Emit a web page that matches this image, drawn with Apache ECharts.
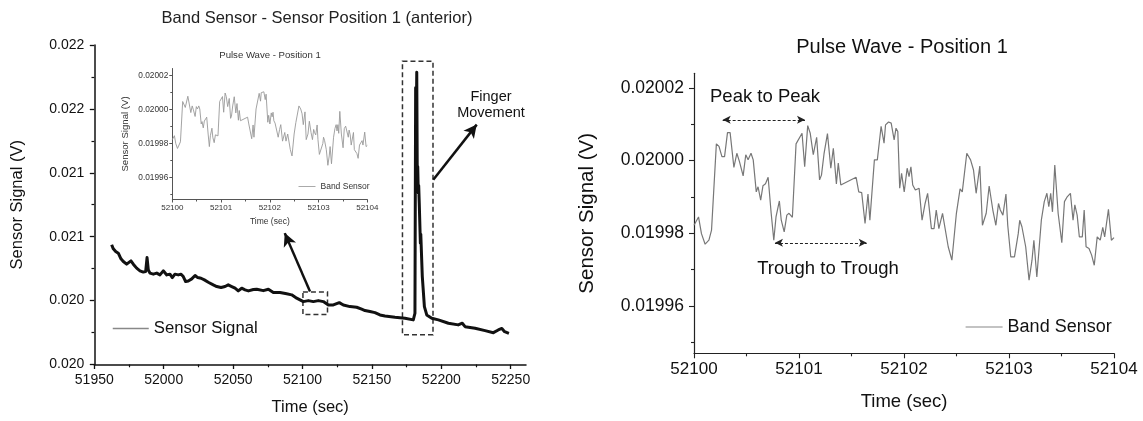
<!DOCTYPE html>
<html>
<head>
<meta charset="utf-8">
<script src="https://cdn.jsdelivr.net/npm/echarts@6/dist/echarts.min.js"></script>
<style>
html,body{margin:0;padding:0;background:#fff;}
#chart{width:1143px;height:421px;}
</style>
</head>
<body>
<div id="chart"></div>
<script>
// ---------- DATA ----------
// Main recording: time (sec) and sensor signal (V)
const mainTime = [51962.5, 51963.7, 51965.4, 51967.3, 51969.2, 51970.9, 51973.3, 51974.5, 51976.4, 51978.1,
  51980.5, 51982.9, 51985.3, 51987.0, 51988.0, 51988.9, 51990.1, 51992.5, 51995.0, 51997.3,
  51999.7, 52002.2, 52004.5, 52006.2, 52008.1, 52010.5, 52012.5, 52014.1, 52015.8, 52017.7,
  52020.2, 52022.6, 52024.5, 52026.9, 52029.3, 52032.1, 52035.7, 52038.2, 52041.3, 52044.2,
  52046.5, 52049.0, 52051.4, 52053.7, 52056.2, 52058.6, 52061.0, 52064.6, 52067.0, 52071.8,
  52075.4, 52079.0, 52083.8, 52088.6, 52092.2, 52095.8, 52100.6, 52104.2, 52107.8, 52111.4,
  52115.0, 52118.6, 52122.2, 52126.5, 52129.4, 52134.2, 52139.0, 52142.6, 52145.0, 52148.6,
  52152.2, 52155.8, 52159.4, 52166.6, 52173.8, 52179.8, 52181.0, 52181.5, 52181.9, 52182.3,
  52182.7, 52183.0, 52183.4, 52183.7, 52184.1, 52184.9, 52185.2, 52186.3, 52187.8, 52189.5,
  52193.1, 52197.9, 52205.1, 52212.2, 52215.1, 52217.1, 52224.3, 52231.5, 52237.5, 52241.0,
  52243.6, 52245.6, 52248.7];
const mainSignal = [0.020437, 0.020405, 0.020384, 0.020371, 0.020327, 0.020306, 0.020285, 0.020293, 0.020311, 0.020285,
  0.020254, 0.020233, 0.020223, 0.020227, 0.020337, 0.020241, 0.020215, 0.020207, 0.020215, 0.020201,
  0.020233, 0.020201, 0.020207, 0.020180, 0.020207, 0.020201, 0.020207, 0.020188, 0.020149, 0.020154,
  0.020170, 0.020196, 0.020180, 0.020175, 0.020162, 0.020144, 0.020123, 0.020110, 0.020102, 0.020110,
  0.020123, 0.020110, 0.020097, 0.020076, 0.020097, 0.020084, 0.020076, 0.020087, 0.020089, 0.020078,
  0.020089, 0.020063, 0.020063, 0.020053, 0.020045, 0.020019, 0.019992, 0.020000, 0.019992, 0.020000,
  0.019992, 0.019966, 0.019966, 0.019984, 0.019966, 0.019953, 0.019948, 0.019933, 0.019922, 0.019914,
  0.019906, 0.019888, 0.019880, 0.019870, 0.019862, 0.019849, 0.019901, 0.021665, 0.021300, 0.021787,
  0.020920, 0.021050, 0.020842, 0.020900, 0.020763, 0.020450, 0.020520, 0.020188, 0.019953, 0.019888,
  0.019862, 0.019849, 0.019823, 0.019810, 0.019823, 0.019796, 0.019784, 0.019765, 0.019749, 0.019770,
  0.019782, 0.019757, 0.019744];

// Pulse wave detail (52100 - 52104 s)
const pulseTime = [52100.000, 52100.043, 52100.071, 52100.089, 52100.106, 52100.142, 52100.167, 52100.213, 52100.238, 52100.266,
  52100.291, 52100.319, 52100.344, 52100.380, 52100.408, 52100.433, 52100.468, 52100.493, 52100.515, 52100.543,
  52100.564, 52100.593, 52100.610, 52100.635, 52100.657, 52100.681, 52100.706, 52100.735, 52100.760, 52100.781,
  52100.813, 52100.831, 52100.859, 52100.884, 52100.905, 52100.937, 52100.972, 52101.029, 52101.054, 52101.083,
  52101.107, 52101.136, 52101.168, 52101.196, 52101.214, 52101.239, 52101.271, 52101.303, 52101.327, 52101.356,
  52101.374, 52101.398, 52101.544, 52101.569, 52101.597, 52101.629, 52101.657, 52101.675, 52101.718, 52101.746,
  52101.782, 52101.810, 52101.824, 52101.853, 52101.878, 52101.906, 52101.924, 52101.941, 52101.959, 52101.977,
  52102.002, 52102.030, 52102.048, 52102.066, 52102.083, 52102.108, 52102.144, 52102.172, 52102.201, 52102.225,
  52102.261, 52102.286, 52102.307, 52102.332, 52102.367, 52102.421, 52102.456, 52102.499, 52102.534, 52102.555,
  52102.598, 52102.634, 52102.662, 52102.687, 52102.722, 52102.747, 52102.783, 52102.811, 52102.846, 52102.875,
  52102.900, 52102.917, 52102.942, 52102.971, 52102.988, 52103.017, 52103.052, 52103.088, 52103.102, 52103.123,
  52103.159, 52103.191, 52103.219, 52103.237, 52103.265, 52103.308, 52103.336, 52103.361, 52103.379, 52103.397,
  52103.414, 52103.436, 52103.468, 52103.503, 52103.528, 52103.556, 52103.585, 52103.610, 52103.627, 52103.649,
  52103.670, 52103.698, 52103.716, 52103.734, 52103.762, 52103.787, 52103.812, 52103.840, 52103.869, 52103.893,
  52103.911, 52103.947, 52103.975, 52104.000];
const pulseSignal = [0.0199822, 0.0199845, 0.0199799, 0.0199804, 0.0199770, 0.0199781, 0.0199809, 0.0200046, 0.0200039, 0.0200011,
  0.0200011, 0.0200077, 0.0200077, 0.0199981, 0.0200020, 0.0199997, 0.0199958, 0.0200016, 0.0200002, 0.0200020,
  0.0200002, 0.0199914, 0.0199928, 0.0199891, 0.0199931, 0.0199936, 0.0199954, 0.0199855, 0.0199781, 0.0199845,
  0.0199889, 0.0199836, 0.0199804, 0.0199850, 0.0199855, 0.0199844, 0.0200046, 0.0200075, 0.0199983, 0.0200096,
  0.0200075, 0.0200016, 0.0200064, 0.0199947, 0.0199960, 0.0200020, 0.0200074, 0.0199979, 0.0200034, 0.0199936,
  0.0199993, 0.0199933, 0.0199954, 0.0199914, 0.0199912, 0.0199827, 0.0199908, 0.0199836, 0.0200002, 0.0200002,
  0.0200094, 0.0200048, 0.0200098, 0.0200106, 0.0200103, 0.0200057, 0.0200089, 0.0200080, 0.0199924, 0.0199965,
  0.0199914, 0.0199979, 0.0199956, 0.0199983, 0.0199933, 0.0199919, 0.0199924, 0.0199836, 0.0199882, 0.0199910,
  0.0199813, 0.0199813, 0.0199864, 0.0199813, 0.0199855, 0.0199763, 0.0199726, 0.0199855, 0.0199922, 0.0199914,
  0.0200020, 0.0200002, 0.0199974, 0.0199910, 0.0199985, 0.0199822, 0.0199855, 0.0199930, 0.0199864, 0.0199822,
  0.0199882, 0.0199864, 0.0199850, 0.0199908, 0.0199822, 0.0199735, 0.0199735, 0.0199799, 0.0199836, 0.0199818,
  0.0199763, 0.0199671, 0.0199726, 0.0199781, 0.0199680, 0.0199836, 0.0199887, 0.0199910, 0.0199873, 0.0199910,
  0.0199859, 0.0199988, 0.0199855, 0.0199774, 0.0199887, 0.0199901, 0.0199910, 0.0199836, 0.0199878, 0.0199850,
  0.0199790, 0.0199790, 0.0199864, 0.0199763, 0.0199758, 0.0199740, 0.0199712, 0.0199790, 0.0199781, 0.0199816,
  0.0199790, 0.0199866, 0.0199781, 0.0199788];

// Tick values / labels
const mainXTicks = [51950, 52000, 52050, 52100, 52150, 52200, 52250];
const mainXMinor = [51975, 52025, 52075, 52125, 52175, 52225];
const mainYTicks = [0.0195, 0.0200, 0.0205, 0.0210, 0.0215, 0.0220];
const mainYLabels = ['0.020', '0.020', '0.021', '0.021', '0.022', '0.022'];
const pulseYTicks = [0.01996, 0.01998, 0.02000, 0.02002];
const pulseYMinor = [0.01995, 0.01997, 0.01999, 0.02001];

// Annotation anchors (data coordinates)
const spikeBox = [[52172, 0.021873], [52194, 0.019733]];
const detailBox = [[52100.3, 0.020067], [52118, 0.019892]];
const arrowToInset = [[52105.4, 0.020071], [52087.2, 0.020528]];
const arrowToText = [[52194.2, 0.020946], [52225.5, 0.021377]];
const peakToPeak = [[52100.273, 0.0200112], [52101.057, 0.0200112]];
const troughToTrough = [[52100.771, 0.0199774], [52101.645, 0.0199774]];

// ---------- CHART ----------
const FONT = '"Liberation Sans", Arial, Helvetica, sans-serif';
const zip = (a, b) => a.map((x, i) => [x, b[i]]);
const chart = echarts.init(document.getElementById('chart'), null, { renderer: 'canvas' });

function txt(x, y, text, size, color, align, extra) {
  return Object.assign({
    type: 'text', x: x, y: y, silent: true,
    style: {
      text: text, fontSize: size, fontFamily: FONT, fill: color,
      textAlign: align, align: align, textVerticalAlign: 'middle', verticalAlign: 'middle'
    }
  }, extra || {});
}
const hiddenSymbol = { color: 'rgba(0,0,0,0)', borderWidth: 0, opacity: 0 };

const option = {
  animation: false,
  backgroundColor: '#ffffff',
  textStyle: { fontFamily: FONT },
  grid: [
    { left: 94.3, top: 45, width: 431.7, height: 319.5, outerBoundsMode: 'none' },
    { left: 172.3, top: 68.5, width: 195, height: 131, outerBoundsMode: 'none' },
    { left: 694, top: 73.3, width: 420, height: 280, outerBoundsMode: 'none' }
  ],
  xAxis: [
    { // main
      type: 'value', gridIndex: 0, position: 'bottom', min: 51950, max: 52261,
      splitLine: { show: false },
      axisLine: { show: true, lineStyle: { color: '#111', width: 1.5 } },
      axisTick: { show: true, length: 4.5, customValues: mainXTicks, lineStyle: { color: '#111', width: 1.3 } },
      axisLabel: { customValues: mainXTicks, formatter: v => String(Math.round(v)), fontSize: 14, color: '#111', margin: 9 },
      name: 'Time (sec)', nameLocation: 'middle', nameGap: 34,
      nameTextStyle: { fontSize: 16.5, color: '#111' }
    },
    { // main minor ticks
      type: 'value', gridIndex: 0, position: 'bottom', min: 51950, max: 52261,
      splitLine: { show: false }, axisLine: { show: false }, axisLabel: { show: false },
      axisTick: { show: true, length: 2.8, customValues: mainXMinor, lineStyle: { color: '#111', width: 1.2 } }
    },
    { // inset
      type: 'value', gridIndex: 1, position: 'bottom', min: 52100, max: 52104, interval: 1,
      splitLine: { show: false },
      axisLine: { show: true, lineStyle: { color: '#555', width: 1 } },
      axisTick: { show: true, length: 3, lineStyle: { color: '#555' } },
      minorTick: { show: true, splitNumber: 2, length: 2, lineStyle: { color: '#555' } },
      axisLabel: { formatter: v => String(Math.round(v)), fontSize: 8, color: '#333', margin: 4 },
      name: 'Time (sec)', nameLocation: 'middle', nameGap: 18,
      nameTextStyle: { fontSize: 8.5, color: '#333' }
    },
    { // right
      type: 'value', gridIndex: 2, position: 'bottom', min: 52100, max: 52104, interval: 1,
      splitLine: { show: false },
      axisLine: { show: true, lineStyle: { color: '#222', width: 1.2 } },
      axisTick: { show: true, length: 5, lineStyle: { color: '#222', width: 1.1 } },
      minorTick: { show: true, splitNumber: 2, length: 3, lineStyle: { color: '#222', width: 1.1 } },
      axisLabel: { formatter: v => String(Math.round(v)), fontSize: 17, color: '#111', margin: 8 },
      name: 'Time (sec)', nameLocation: 'middle', nameGap: 39,
      nameTextStyle: { fontSize: 18.5, color: '#111' }
    }
  ],
  yAxis: [
    { // main
      type: 'value', gridIndex: 0, position: 'left', min: 0.0195, max: 0.0220, interval: 0.0005,
      splitLine: { show: false },
      axisLine: { show: true, lineStyle: { color: '#111', width: 1.5 } },
      axisTick: { show: true, length: 4.5, lineStyle: { color: '#111', width: 1.3 } },
      minorTick: { show: true, splitNumber: 2, length: 2.8, lineStyle: { color: '#111', width: 1.2 } },
      axisLabel: {
        fontSize: 14, color: '#111', margin: 10,
        formatter: v => {
          let best = 0;
          mainYTicks.forEach((t, i) => { if (Math.abs(t - v) < Math.abs(mainYTicks[best] - v)) best = i; });
          return mainYLabels[best];
        }
      },
      name: 'Sensor Signal (V)', nameLocation: 'middle', nameGap: 68,
      nameTextStyle: { fontSize: 16.5, color: '#111' }
    },
    { // inset
      type: 'value', gridIndex: 1, position: 'left', min: 0.019947, max: 0.020024,
      splitLine: { show: false },
      axisLine: { show: true, lineStyle: { color: '#555', width: 1 } },
      axisTick: { show: true, length: 3, customValues: pulseYTicks, lineStyle: { color: '#555' } },
      axisLabel: { customValues: pulseYTicks, formatter: v => v.toFixed(5), fontSize: 8.3, color: '#333', margin: 4 },
      name: 'Sensor Signal (V)', nameLocation: 'middle', nameGap: 42,
      nameTextStyle: { fontSize: 9.6, color: '#333' }
    },
    { // inset minor
      type: 'value', gridIndex: 1, position: 'left', min: 0.019947, max: 0.020024,
      splitLine: { show: false }, axisLine: { show: false }, axisLabel: { show: false },
      axisTick: { show: true, length: 2, customValues: pulseYMinor, lineStyle: { color: '#555' } }
    },
    { // right
      type: 'value', gridIndex: 2, position: 'left', min: 0.019947, max: 0.020024,
      splitLine: { show: false },
      axisLine: { show: true, lineStyle: { color: '#222', width: 1.2 } },
      axisTick: { show: true, length: 5, customValues: pulseYTicks, lineStyle: { color: '#222', width: 1.1 } },
      axisLabel: { customValues: pulseYTicks, formatter: v => v.toFixed(5), fontSize: 17.5, color: '#111', margin: 10 },
      name: 'Sensor Signal (V)', nameLocation: 'middle', nameGap: 96,
      nameTextStyle: { fontSize: 20.5, color: '#111' }
    },
    { // right minor
      type: 'value', gridIndex: 2, position: 'left', min: 0.019947, max: 0.020024,
      splitLine: { show: false }, axisLine: { show: false }, axisLabel: { show: false },
      axisTick: { show: true, length: 3, customValues: pulseYMinor, lineStyle: { color: '#222', width: 1.1 } }
    }
  ],
  legend: [
    {
      left: 112, top: 320, padding: 0, itemWidth: 36, itemHeight: 14, selectedMode: false,
      textStyle: { fontSize: 16.7, color: '#111' },
      data: [{ name: 'Sensor Signal', itemStyle: hiddenSymbol, lineStyle: { color: '#888', width: 1.5 } }]
    },
    {
      left: 298, top: 182, padding: 0, itemWidth: 17, itemHeight: 8, selectedMode: false,
      textStyle: { fontSize: 8.5, color: '#333' },
      data: [{ name: 'Band Sensor', itemStyle: hiddenSymbol, lineStyle: { color: '#aaa', width: 1 } }]
    },
    {
      left: 965, top: 318, padding: 0, itemWidth: 37, itemHeight: 14, selectedMode: false,
      textStyle: { fontSize: 18, color: '#111' },
      data: [{ name: 'Band Sensor', itemStyle: hiddenSymbol, lineStyle: { color: '#888', width: 1.2 } }]
    }
  ],
  series: [
    {
      name: 'Sensor Signal', type: 'line', xAxisIndex: 0, yAxisIndex: 0,
      data: zip(mainTime, mainSignal), symbol: 'none', silent: true,
      lineStyle: { color: '#111', width: 3, join: 'round' }, itemStyle: { color: '#111' },
      markArea: {
        silent: true,
        itemStyle: { color: 'rgba(0,0,0,0)', borderColor: '#333', borderWidth: 1.5, borderType: [5, 3] },
        data: [
          [{ coord: spikeBox[0] }, { coord: spikeBox[1] }],
          [{ coord: detailBox[0] }, { coord: detailBox[1] }]
        ]
      },
      markLine: {
        silent: true, symbol: ['none', 'arrow'], symbolSize: [10, 13],
        label: { show: false },
        lineStyle: { color: '#111', width: 2.5, type: 'solid' },
        data: [
          [{ coord: arrowToInset[0] }, { coord: arrowToInset[1] }],
          [{ coord: arrowToText[0] }, { coord: arrowToText[1] }]
        ]
      }
    },
    {
      name: 'Band Sensor', type: 'line', xAxisIndex: 2, yAxisIndex: 1,
      data: zip(pulseTime, pulseSignal), symbol: 'none', silent: true,
      lineStyle: { color: '#999', width: 0.9 }, itemStyle: { color: '#999' }
    },
    {
      name: 'Band Sensor', type: 'line', xAxisIndex: 3, yAxisIndex: 3,
      data: zip(pulseTime, pulseSignal), symbol: 'none', silent: true,
      lineStyle: { color: '#777', width: 1.2 }, itemStyle: { color: '#777' },
      markLine: {
        silent: true, symbol: ['arrow', 'arrow'], symbolSize: [6, 8],
        label: { show: false },
        lineStyle: { color: '#222', width: 1, type: [3, 2] },
        data: [
          [{ coord: peakToPeak[0] }, { coord: peakToPeak[1] }],
          [{ coord: troughToTrough[0] }, { coord: troughToTrough[1] }]
        ]
      }
    }
  ],
  graphic: [
    txt(317, 18, 'Band Sensor - Sensor Position 1 (anterior)', 16.5, '#222', 'center'),
    txt(270, 55, 'Pulse Wave - Position 1', 9.6, '#333', 'center'),
    txt(491, 97, 'Finger', 14.5, '#111', 'center'),
    txt(491, 113, 'Movement', 14.5, '#111', 'center'),
    txt(902, 47, 'Pulse Wave - Position 1', 20, '#111', 'center'),
    txt(710, 97, 'Peak to Peak', 18.5, '#111', 'left'),
    txt(828, 269, 'Trough to Trough', 18.5, '#111', 'center')
  ]
};
chart.setOption(option);
</script>
</body>
</html>
